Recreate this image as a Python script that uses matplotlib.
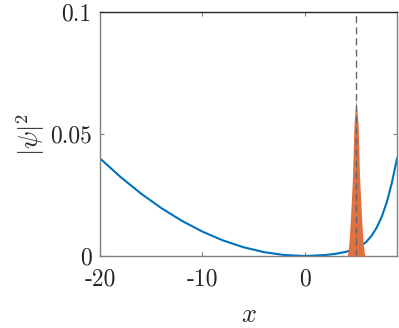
import matplotlib
matplotlib.use("Agg")
import matplotlib.pyplot as plt
import numpy as np

# potential-like curve (blue)
x_curve = [-20, -18, -16, -14, -12, -10, -8, -6, -4, -2, 0, 2, 3, 4, 5, 5.5,
           6, 6.5, 7, 7.5, 8, 8.5, 9]
y_curve = [0.040, 0.0324, 0.0256, 0.0196, 0.0144, 0.0100, 0.0064, 0.0036,
           0.0016, 0.0004, 0.0, 0.0004, 0.0009, 0.0017, 0.0030, 0.0042,
           0.0058, 0.0082, 0.0115, 0.0160, 0.0220, 0.0300, 0.0400]

# |psi|^2 peak (orange)
x_peak = [4.15, 4.3, 4.45, 4.65, 4.8, 5.0, 5.2, 5.35, 5.55, 5.7, 5.85]
y_peak = [0.0, 0.005, 0.015, 0.032, 0.054, 0.064, 0.054, 0.032, 0.015, 0.005, 0.0]

x_center = 5.0
xticks = [-20, -10, 0]
yticks = [0, 0.05, 0.1]
yticklabels = ["0", "0.05", "0.1"]

plt.rcParams["mathtext.fontset"] = "cm"
plt.rcParams["axes.unicode_minus"] = False

fig = plt.figure(figsize=(3.99, 3.28), dpi=100)
ax = fig.add_axes([0.2506, 0.2195, 0.7444, 0.7439])

ax.plot(x_curve, y_curve, color="#0072BD", lw=1.5, zorder=2)
ax.fill_between(x_peak, y_peak, 0, color="#E0703F", lw=0, zorder=3)
ax.plot([x_center, x_center], [0, 0.1], color="#666666", lw=1.0,
        ls=(0, (5, 3)), zorder=4)

ax.set_xlim(-20, 9)
ax.set_ylim(0, 0.1)
ax.set_xticks(xticks)
ax.set_xticklabels([str(t) for t in xticks])
ax.set_yticks(yticks)
ax.set_yticklabels(yticklabels)

for lab in ax.get_xticklabels() + ax.get_yticklabels():
    lab.set_fontfamily("cmr10")
    lab.set_fontsize(17)
    lab.set_color("#262626")

ax.tick_params(direction="in", length=3, width=0.8, color="#808080",
               top=True, right=True)
ax.tick_params(axis="x", pad=9)
ax.tick_params(axis="y", pad=6)
for side in ["left", "bottom", "right"]:
    ax.spines[side].set_color("#808080")
ax.spines["top"].set_color("#262626")
for s in ax.spines.values():
    s.set_linewidth(1.0)

ax.set_xlabel(r"$x$", fontsize=19, color="#262626", labelpad=8)
ax.set_ylabel(r"$|\psi|^2$", fontsize=19, color="#262626", labelpad=2)

fig.savefig("out.png", dpi=100)
